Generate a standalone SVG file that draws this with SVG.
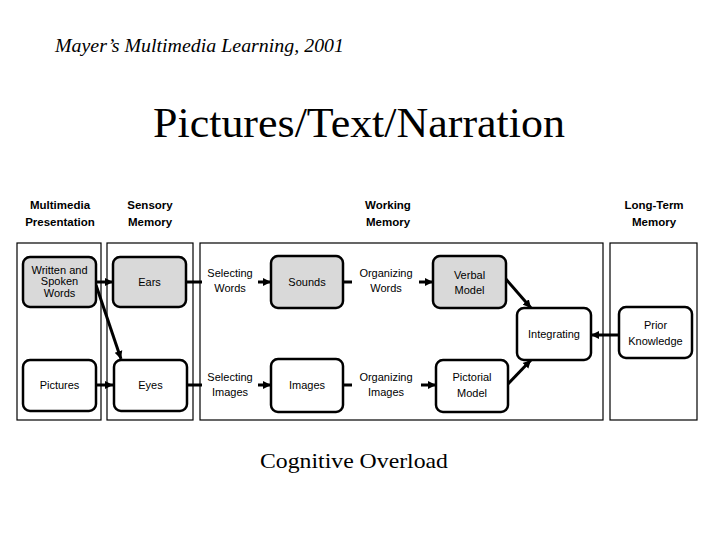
<svg xmlns="http://www.w3.org/2000/svg" width="720" height="540" viewBox="0 0 720 540">
<style>
.frame{fill:none;stroke:#000;stroke-width:1.2}
.node{stroke:#000;stroke-width:2.5}
.g{fill:#d9d9d9}
.w{fill:#fff}
.t{font-family:"Liberation Sans",Arial,sans-serif;font-size:11px;fill:#000;text-anchor:middle}
.h{font-family:"Liberation Sans",Arial,sans-serif;font-size:11.5px;font-weight:bold;fill:#000;text-anchor:middle}
.c{stroke:#000;stroke-width:3;fill:none}
.ca{stroke:#000;stroke-width:3;fill:none;marker-end:url(#ah)}
.serif{font-family:"Liberation Serif","Times New Roman",serif;fill:#000}
</style>
<defs>
<marker id="ah" markerUnits="userSpaceOnUse" markerWidth="9" markerHeight="9" refX="8" refY="4.5" orient="auto">
<path d="M0,0.5 L8,4.5 L0,8.5 Z" fill="#000"/>
</marker>
</defs>
<rect width="720" height="540" fill="#fff"/>
<text class="serif" x="55" y="52" font-size="18" font-style="italic" textLength="289" lengthAdjust="spacingAndGlyphs">Mayer’s Multimedia Learning, 2001</text>
<text class="serif" x="153" y="137" font-size="42" textLength="412" lengthAdjust="spacingAndGlyphs">Pictures/Text/Narration</text>
<text class="serif" x="260" y="468" font-size="22" textLength="188" lengthAdjust="spacingAndGlyphs">Cognitive Overload</text>

<g id="headers">
<text class="h" x="60" y="209">Multimedia</text>
<text class="h" x="60" y="226">Presentation</text>
<text class="h" x="150" y="209">Sensory</text>
<text class="h" x="150" y="226">Memory</text>
<text class="h" x="388" y="209">Working</text>
<text class="h" x="388" y="226">Memory</text>
<text class="h" x="654" y="209">Long-Term</text>
<text class="h" x="654" y="226">Memory</text>
</g>

<g id="frames">
<rect class="frame" x="17" y="243" width="84" height="177"/>
<rect class="frame" x="107" y="243" width="86" height="177"/>
<rect class="frame" x="200" y="243" width="403" height="177"/>
<rect class="frame" x="610" y="243" width="87" height="177"/>
</g>

<g id="connectors">
<line class="ca" x1="96" y1="282" x2="113" y2="282"/>
<line class="ca" x1="96" y1="285" x2="121" y2="359"/>
<line class="ca" x1="96" y1="385" x2="113" y2="385"/>
<line class="c" x1="186" y1="282" x2="202" y2="282"/>
<line class="c" x1="187" y1="385" x2="202" y2="385"/>
<line class="ca" x1="258" y1="282" x2="271" y2="282"/>
<line class="ca" x1="258" y1="385" x2="271" y2="385"/>
<line class="c" x1="343" y1="282" x2="352" y2="282"/>
<line class="c" x1="343" y1="385" x2="352" y2="385"/>
<line class="ca" x1="419" y1="282" x2="433" y2="282"/>
<line class="ca" x1="421" y1="385" x2="436" y2="385"/>
<line class="ca" x1="505" y1="278" x2="531" y2="308"/>
<line class="ca" x1="507" y1="385" x2="531" y2="360"/>
<line class="ca" x1="619" y1="335" x2="591" y2="335"/>
</g>

<g id="written">
<rect class="node g" x="23" y="257" width="73" height="50" rx="7"/>
<text class="t" x="59.5" y="274">Written and</text>
<text class="t" x="59.5" y="285">Spoken</text>
<text class="t" x="59.5" y="297">Words</text>
</g>
<g id="pictures">
<rect class="node w" x="23" y="360" width="73" height="51" rx="7"/>
<text class="t" x="59.5" y="389">Pictures</text>
</g>
<g id="ears">
<rect class="node g" x="113" y="257" width="73" height="50" rx="7"/>
<text class="t" x="149.5" y="286">Ears</text>
</g>
<g id="eyes">
<rect class="node w" x="114" y="360" width="73" height="51" rx="7"/>
<text class="t" x="150.5" y="389">Eyes</text>
</g>

<g id="selecting-words">
<text class="t" x="230" y="277">Selecting</text>
<text class="t" x="230" y="292">Words</text>
</g>
<g id="selecting-images">
<text class="t" x="230" y="381">Selecting</text>
<text class="t" x="230" y="396">Images</text>
</g>
<g id="sounds">
<rect class="node g" x="271" y="256" width="72" height="52" rx="7"/>
<text class="t" x="307" y="286">Sounds</text>
</g>
<g id="images">
<rect class="node w" x="271" y="359" width="72" height="53" rx="7"/>
<text class="t" x="307" y="389">Images</text>
</g>
<g id="organizing-words">
<text class="t" x="386" y="277">Organizing</text>
<text class="t" x="386" y="292">Words</text>
</g>
<g id="organizing-images">
<text class="t" x="386" y="381">Organizing</text>
<text class="t" x="386" y="396">Images</text>
</g>
<g id="verbal">
<rect class="node g" x="433" y="256" width="73" height="52" rx="7"/>
<text class="t" x="469.5" y="279">Verbal</text>
<text class="t" x="469.5" y="294">Model</text>
</g>
<g id="pictorial">
<rect class="node w" x="436" y="360" width="72" height="52" rx="7"/>
<text class="t" x="472" y="381">Pictorial</text>
<text class="t" x="472" y="397">Model</text>
</g>
<g id="integrating">
<rect class="node w" x="517" y="308" width="74" height="52" rx="7"/>
<text class="t" x="554" y="338">Integrating</text>
</g>
<g id="prior">
<rect class="node w" x="619" y="307" width="73" height="51" rx="7"/>
<text class="t" x="655.5" y="329">Prior</text>
<text class="t" x="655.5" y="345">Knowledge</text>
</g>
</svg>
